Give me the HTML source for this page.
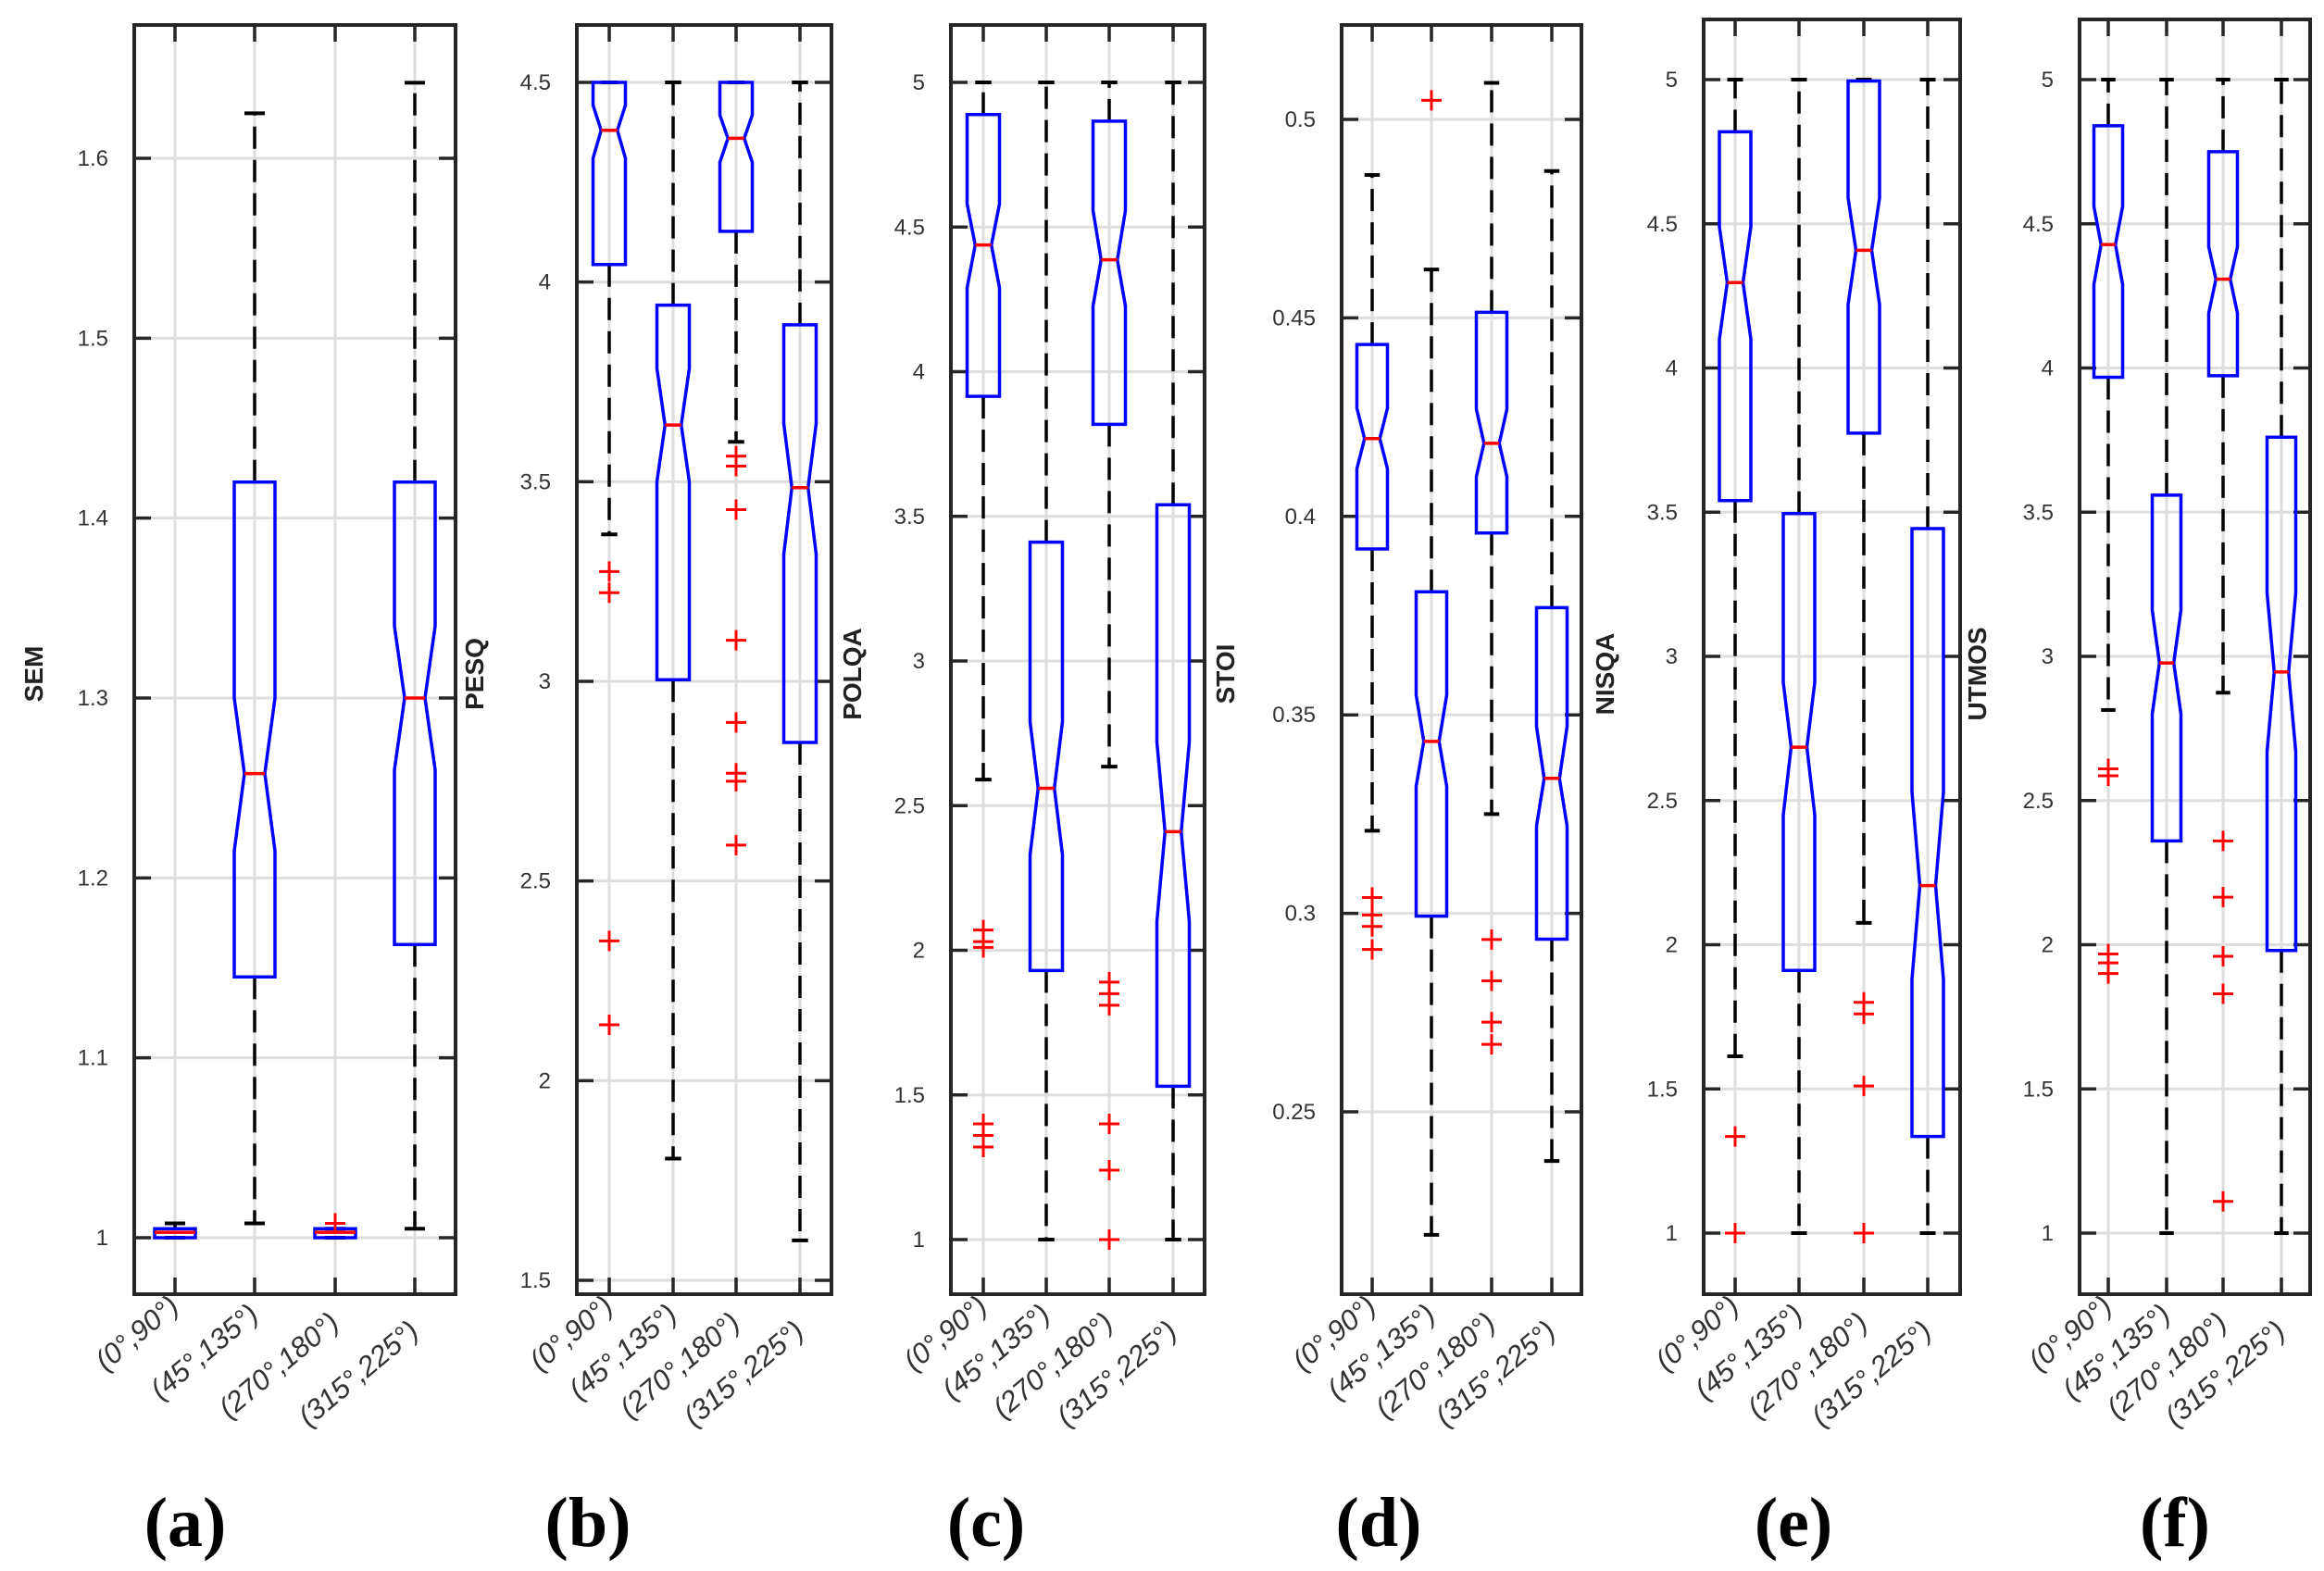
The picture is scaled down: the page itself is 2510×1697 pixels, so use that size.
<!DOCTYPE html>
<html><head><meta charset="utf-8"><style>
html,body{margin:0;padding:0;background:#fff;}
svg{display:block;}
</style></head><body>
<svg id="chart" width="2510" height="1697" xmlns="http://www.w3.org/2000/svg"></svg>
<script>
// ---- data (per panel a..f, per group 4 boxes) ----
const metricNames = ["SEM","PESQ","POLQA","STOI","NISQA","UTMOS"];
const panelLetters = ["(a)","(b)","(c)","(d)","(e)","(f)"];
const categories = ["(0°,90°)","(45°,135°)","(270°,180°)","(315°,225°)"];
const q1 = [[1.0,1.145,1.0,1.163],[4.044,3.004,4.127,2.847],[3.915,1.93,3.818,1.53],[0.3918,0.2993,0.3958,0.2935],[3.54,1.911,3.774,1.335],[3.968,2.36,3.973,1.98]];
const q3 = [[1.005,1.42,1.005,1.42],[4.5,3.942,4.5,3.893],[4.889,3.411,4.866,3.54],[0.4433,0.381,0.4514,0.377],[4.819,3.495,4.995,3.443],[4.84,3.559,4.75,3.76]];
const med = [[1.003,1.258,1.003,1.30],[4.38,3.642,4.36,3.485],[4.438,2.56,4.387,2.41],[0.4196,0.3433,0.4184,0.334],[4.296,2.685,4.408,2.205],[4.428,2.977,4.308,2.946]];
const notchLo = [[1.0,1.215,1.0,1.26],[4.31,3.5,4.30,3.318],[4.29,2.33,4.227,2.10],[0.412,0.332,0.41,0.322],[4.10,2.45,4.22,1.88],[4.29,2.80,4.19,2.67]];
const notchHi = [[1.005,1.30,1.005,1.34],[4.443,3.784,4.418,3.646],[4.58,2.79,4.557,2.72],[0.4273,0.355,0.427,0.347],[4.49,2.91,4.59,2.53],[4.56,3.16,4.42,3.22]];
const whLo = [[1.0,1.008,1.0,1.005],[3.368,1.805,3.60,1.6],[2.59,1.0,2.635,1.0],[0.3208,0.219,0.325,0.2376],[1.613,1.0,2.076,1.0],[2.814,1.0,2.874,1.0]];
const whHi = [[1.008,1.625,1.005,1.642],[4.5,4.5,4.5,4.5],[5.0,5.0,5.0,5.0],[0.486,0.4622,0.5092,0.487],[5.0,5.0,5.0,5.0],[5.0,5.0,5.0,5.0]];
const outliers = [
 [[],[],[1.008],[]],
 [[3.275,3.222,2.35,2.14],[],[3.564,3.539,3.43,3.103,2.897,2.77,2.75,2.59],[]],
 [[2.07,2.03,2.01,1.40,1.36,1.32],[],[1.89,1.85,1.81,1.40,1.24,1.0],[]],
 [[0.304,0.2996,0.2967,0.2909],[0.5048],[0.2934,0.283,0.2726,0.267],[]],
 [[1.335,1.0],[],[1.80,1.76,1.51,1.0],[]],
 [[2.61,2.586,1.968,1.937,1.90],[],[2.36,2.165,1.96,1.83,1.11],[]]
];
const yTicks = [[1,1.1,1.2,1.3,1.4,1.5,1.6],[1.5,2,2.5,3,3.5,4,4.5],[1,1.5,2,2.5,3,3.5,4,4.5,5],[0.25,0.3,0.35,0.4,0.45,0.5],[1,1.5,2,2.5,3,3.5,4,4.5,5],[1,1.5,2,2.5,3,3.5,4,4.5,5]];
const yTickLabels = [["1","1.1","1.2","1.3","1.4","1.5","1.6"],["1.5","2","2.5","3","3.5","4","4.5"],["1","1.5","2","2.5","3","3.5","4","4.5","5"],["0.25","0.3","0.35","0.4","0.45","0.5"],["1","1.5","2","2.5","3","3.5","4","4.5","5"],["1","1.5","2","2.5","3","3.5","4","4.5","5"]];
// ---- layout (pixels) ----
const layout = [
 {l:145,r:492,t:27,b:1398,v1:1.0,p1:1337,v2:1.6,p2:171,cx:[189,275,362,448],hw:22,tx:36,lx:200},
 {l:623,r:898,t:27,b:1398,v1:4.5,p1:89,v2:1.5,p2:1383,cx:[658,727,795,864],hw:17.5,tx:512,lx:635},
 {l:1027,r:1301,t:27,b:1398,v1:5,p1:89,v2:1,p2:1339,cx:[1062,1130,1198,1267],hw:17.5,tx:920,lx:1065},
 {l:1449,r:1708,t:27,b:1398,v1:0.5,p1:129,v2:0.25,p2:1201,cx:[1482,1546,1611,1676],hw:16.5,tx:1323,lx:1489},
 {l:1840,r:2117,t:21,b:1398,v1:5,p1:86,v2:1,p2:1332,cx:[1874,1943,2013,2082],hw:17,tx:1733,lx:1937},
 {l:2246,r:2495,t:21,b:1398,v1:5,p1:86,v2:1,p2:1332,cx:[2277,2340,2401,2464],hw:15.5,tx:2135,lx:2349}
];
const NS="http://www.w3.org/2000/svg";
const svg=document.getElementById('chart');
function mk(tag,attrs,parent){const e=document.createElementNS(NS,tag);for(const k in attrs)e.setAttribute(k,attrs[k]);(parent||svg).appendChild(e);return e;}
layout.forEach((L,pi)=>{
  const g=mk('g',{});
  
  
  const y=v=>L.p1+(v-L.v1)*(L.p2-L.p1)/(L.v2-L.v1);
  yTicks[pi].forEach((v,i)=>{
    const gl=mk('line',{x1:L.l,x2:L.r,y1:y(v),y2:y(v),stroke:'#dedede','stroke-width':3},g);
    
    
    mk('line',{x1:L.l,x2:L.l+18,y1:y(v),y2:y(v),stroke:'#262626','stroke-width':3.5},g);
    mk('line',{x1:L.r-18,x2:L.r,y1:y(v),y2:y(v),stroke:'#262626','stroke-width':3.5},g);
    const t=mk('text',{x:L.l-28,y:y(v)+8,'text-anchor':'end','font-family':'Liberation Sans, sans-serif','font-size':24,fill:'#333'},g);
    t.textContent=yTickLabels[pi][i];
    
    
  });
  L.cx.forEach(c=>{
    const gl=mk('line',{x1:c,x2:c,y1:L.t,y2:L.b,stroke:'#dedede','stroke-width':3},g);
    
    
    mk('line',{x1:c,x2:c,y1:L.t,y2:L.t+18,stroke:'#262626','stroke-width':3.5},g);
    mk('line',{x1:c,x2:c,y1:L.b-18,y2:L.b,stroke:'#262626','stroke-width':3.5},g);
  });
  for(let k=0;k<4;k++){
    const c=L.cx[k],hw=L.hw,cap=hw*0.5;
    const noNotch = notchLo[pi][k]<=q1[pi][k] && notchHi[pi][k]>=q3[pi][k];
    const nw = noNotch ? hw : hw*0.5;
    const bg=mk('g',{},g);
    
    
    mk('line',{x1:c,x2:c,y1:y(q3[pi][k]),y2:y(whHi[pi][k]),stroke:'#000','stroke-width':3.5,'stroke-dasharray':'24 12'},bg);
    mk('line',{x1:c,x2:c,y1:y(q1[pi][k]),y2:y(whLo[pi][k]),stroke:'#000','stroke-width':3.5,'stroke-dasharray':'24 12'},bg);
    mk('line',{x1:c-cap,x2:c+cap,y1:y(whHi[pi][k]),y2:y(whHi[pi][k]),stroke:'#000','stroke-width':4},bg);
    mk('line',{x1:c-cap,x2:c+cap,y1:y(whLo[pi][k]),y2:y(whLo[pi][k]),stroke:'#000','stroke-width':4},bg);
    const a=y(q1[pi][k]),b=y(q3[pi][k]),m=y(med[pi][k]),nl=y(notchLo[pi][k]),nh=y(notchHi[pi][k]);
    const pts=noNotch?[[c-hw,a],[c-hw,b],[c+hw,b],[c+hw,a]]:[[c-hw,a],[c-hw,nl],[c-nw,m],[c-hw,nh],[c-hw,b],[c+hw,b],[c+hw,nh],[c+nw,m],[c+hw,nl],[c+hw,a]];
    mk('polygon',{points:pts.map(p=>p.join(',')).join(' '),fill:'none',stroke:'#0000ff','stroke-width':3.5},bg);
    mk('line',{x1:c-nw,x2:c+nw,y1:m,y2:m,stroke:'#ff0000','stroke-width':3.5},bg);
    outliers[pi][k].forEach(v=>{
      const o=mk('path',{d:`M${c-11},${y(v)}H${c+11}M${c},${y(v)-11}V${y(v)+11}`,stroke:'#ff0000','stroke-width':3,fill:'none'},bg);
      
      
    });
    const xt=mk('text',{x:0,y:0,'text-anchor':'end','font-family':'Liberation Sans, sans-serif','font-size':31,'font-style':'italic',fill:'#333',transform:`translate(${c+6},${1414+k*9}) rotate(-40)`},g);
    xt.textContent=categories[k];
    
    
  }
  const fr=mk('rect',{x:L.l,y:L.t,width:L.r-L.l,height:L.b-L.t,fill:'none',stroke:'#262626','stroke-width':4},g);
  
  
  const at=mk('text',{x:0,y:0,'text-anchor':'middle','font-family':'Liberation Sans, sans-serif','font-size':28,'font-weight':'bold',fill:'#222',transform:`translate(${L.tx+10},${728}) rotate(-90)`},g);
  at.textContent=metricNames[pi];
  
  
  const pl=mk('text',{x:L.lx,y:1670,'text-anchor':'middle','font-family':'Liberation Serif, serif','font-size':76,'font-weight':'bold',fill:'#000'},g);
  pl.textContent=panelLetters[pi];
  
  
});
</script>
</body></html>
